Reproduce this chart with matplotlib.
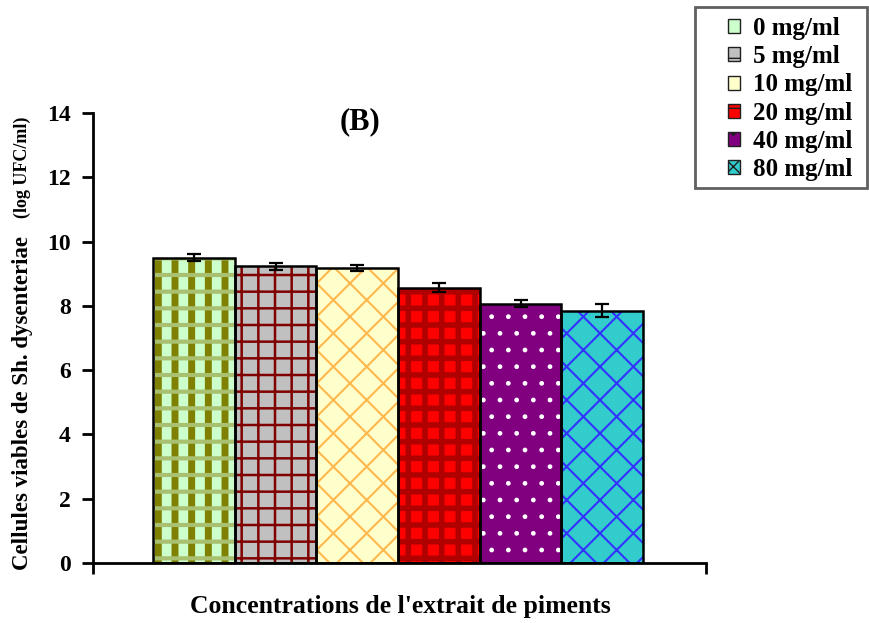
import numpy as np
import matplotlib
matplotlib.use('Agg')
import matplotlib.pyplot as plt
from matplotlib.patches import Patch, Rectangle

plt.rcParams['font.family'] = 'Liberation Serif'
plt.rcParams['font.weight'] = 'bold'

LABELS  = ['0 mg/ml', '5 mg/ml', '10 mg/ml', '20 mg/ml', '40 mg/ml', '80 mg/ml']
MEANS   = [9.50, 9.23, 9.18, 8.56, 8.07, 7.85]
ERRORS  = [0.10, 0.10, 0.10, 0.14, 0.10, 0.20]
FACES   = ['#CCFFCC', '#C0C0C0', '#FFFFCC', '#FF0000', '#800080', '#33CCCC']
HCOLORS = ['#808000', '#800000', '#FFB84D', '#B00000', '#FFFFFF', '#3333FF']
HATCHES = ['|', '+', 'x', '+', '.', 'x']
HLW     = [5.0, 1.8, 1.5, 4.0, 1.0, 1.5]

W, H = 869, 623
fig = plt.figure(figsize=(W/100, H/100), dpi=100)
ax = fig.add_axes([93/W, 1 - 563/H, (706 - 93)/W, (563 - 113)/H])

def set_hlw(bars, lw):
    for p in bars:
        try:
            p.set_hatch_linewidth(lw)
        except AttributeError:
            pass

x = np.arange(len(MEANS))
for i in range(len(MEANS)):
    b = ax.bar(x[i], MEANS[i], width=1.0, color=FACES[i], edgecolor=HCOLORS[i],
               hatch=HATCHES[i], linewidth=0, zorder=2)
    set_hlw(b, HLW[i])
# checker bands across the first bar
b = ax.bar(x[0], MEANS[0], width=1.0, fill=False, edgecolor='#A8C070', hatch='-',
           linewidth=0, zorder=2.5)
set_hlw(b, 3.0)

ax.bar(x, MEANS, width=1.0, fill=False, edgecolor='black', linewidth=1.8, zorder=3)
ax.errorbar(x, MEANS, yerr=ERRORS, fmt='none', ecolor='black', elinewidth=1.6,
            capsize=4.7, capthick=1.6, zorder=4)

ax.set_xlim(-1.235, 6.27)
ax.set_ylim(0, 14)
ax.set_yticks(np.arange(0, 15, 2))
ax.set_xticks([-1.235, 6.27])
ax.set_xticklabels([])
ax.tick_params(axis='y', direction='out', length=8, width=2, labelsize=17, pad=8)
ax.tick_params(axis='x', direction='out', length=8, width=2)
for s in ['top', 'right']:
    ax.spines[s].set_visible(False)
for s in ['left', 'bottom']:
    ax.spines[s].set_linewidth(2)

ax.text(0.435, 0.98, '(B)', transform=ax.transAxes, ha='center', va='center',
        fontsize=22, fontweight='bold')

fig.text(400/W, 1 - 607/H, "Concentrations de l'extrait de piments",
         ha='center', va='center', fontsize=18.5, fontweight='bold')
fig.text(28/W, 1 - 570/H, 'Cellules viables de Sh. dysenteriae', rotation=90,
         rotation_mode='anchor', ha='left', va='baseline', fontsize=16.5, fontweight='bold')
fig.text(27/W, 1 - 218/H, '(log UFC/ml)', rotation=90,
         rotation_mode='anchor', ha='left', va='baseline', fontsize=13, fontweight='bold')

# legend box drawn separately so its padding matches the reference
fig.patches.append(Rectangle((695/W, 1 - 188/H), (867 - 695)/W, (188 - 7)/H,
                             transform=fig.transFigure, facecolor='white',
                             edgecolor='#606060', linewidth=2, zorder=1))
handles = [Patch(facecolor=FACES[i], edgecolor='#202020', hatch=HATCHES[i], linewidth=1)
           for i in range(len(LABELS))]
leg = fig.legend(handles, LABELS, loc='upper left', bbox_to_anchor=(728/W, 1 - 17/H),
                 prop={'family': 'Liberation Serif', 'weight': 'bold', 'size': 18},
                 handlelength=0.48, handleheight=0.48, handletextpad=0.52,
                 labelspacing=0.21, borderpad=0, borderaxespad=0, frameon=False)
leg.set_zorder(5)

fig.savefig('out.png', dpi=100)
